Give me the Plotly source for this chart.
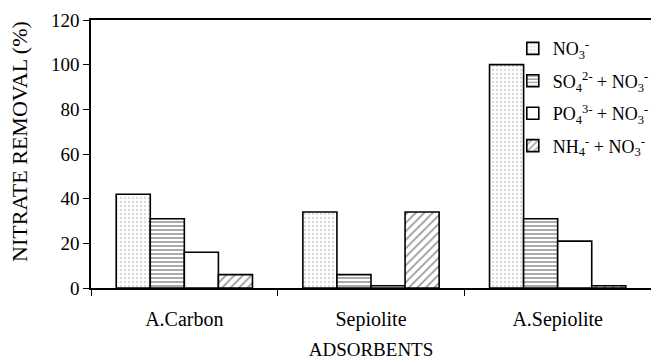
import plotly.graph_objects as go

categories = ["A.Carbon", "Sepiolite", "A.Sepiolite"]
series_names = [
    "NO<sub>3</sub><sup>-</sup>",
    "SO<sub>4</sub><sup>2-</sup> + NO<sub>3</sub><sup>-</sup>",
    "PO<sub>4</sub><sup>3-</sup> + NO<sub>3</sub><sup>-</sup>",
    "NH<sub>4</sub><sup>-</sup> + NO<sub>3</sub><sup>-</sup>",
]
no3 = [42, 34, 100]
so4_no3 = [31, 6, 31]
po4_no3 = [16, 1, 21]
nh4_no3 = [6, 34, 1]
y_ticks = [0, 20, 40, 60, 80, 100, 120]

FONT = "Liberation Serif, Times New Roman, serif"

patterns = [
    dict(shape=".", fgcolor="#b0b0b0", bgcolor="white", size=4, solidity=0.25),
    dict(shape="-", fgcolor="#444444", bgcolor="white", size=4, solidity=0.45),
    dict(shape="", bgcolor="white"),
    dict(shape="/", fgcolor="#333333", bgcolor="white", size=6, solidity=0.3),
]

fig = go.Figure()
for i, (name, vals, pat) in enumerate(zip(series_names, [no3, so4_no3, po4_no3, nh4_no3], patterns)):
    fig.add_trace(go.Bar(
        x=categories, y=vals, name=name, legendgroup=f"g{i}",
        marker=dict(color="white", pattern=pat, line=dict(color="black", width=1.6)),
    ))

fig.update_layout(
    width=651, height=363,
    margin=dict(l=91, r=0, t=20, b=75, autoexpand=False),
    paper_bgcolor="white", plot_bgcolor="white",
    font=dict(family=FONT, size=19, color="black"),
    barmode="group", bargap=0.27, bargroupgap=0,
    legend=dict(
        xref="paper", yref="paper",
        x=1.005, y=0.962, xanchor="right", yanchor="top",
        bgcolor="rgba(0,0,0,0)", font=dict(family=FONT, size=18),
        traceorder="grouped", tracegroupgap=6, borderwidth=0,
    ),
    showlegend=True,
    annotations=[dict(
        text="NITRATE REMOVAL (%)", textangle=-90,
        xref="paper", yref="paper", x=0, y=0.545, xshift=-71,
        xanchor="center", yanchor="middle", showarrow=False,
        font=dict(family=FONT, size=22),
    )],
)
fig.update_xaxes(
    range=[-0.5, 2.5],
    showline=True, linecolor="black", linewidth=1.5, mirror=True,
    ticks="outside", tickson="boundaries", ticklen=6, tickcolor="black",
    ticklabelstandoff=12,
    tickfont=dict(family=FONT, size=20),
    title=dict(text="ADSORBENTS", font=dict(family=FONT, size=19), standoff=13),
    showgrid=False,
)
fig.update_yaxes(
    range=[0, 120], tickvals=y_ticks,
    showline=True, linecolor="black", linewidth=1.5,
    ticks="outside", ticklen=6, tickcolor="black",
    tickfont=dict(family=FONT, size=19),
    showgrid=False, zeroline=False,
)

fig.write_html("out.html")
